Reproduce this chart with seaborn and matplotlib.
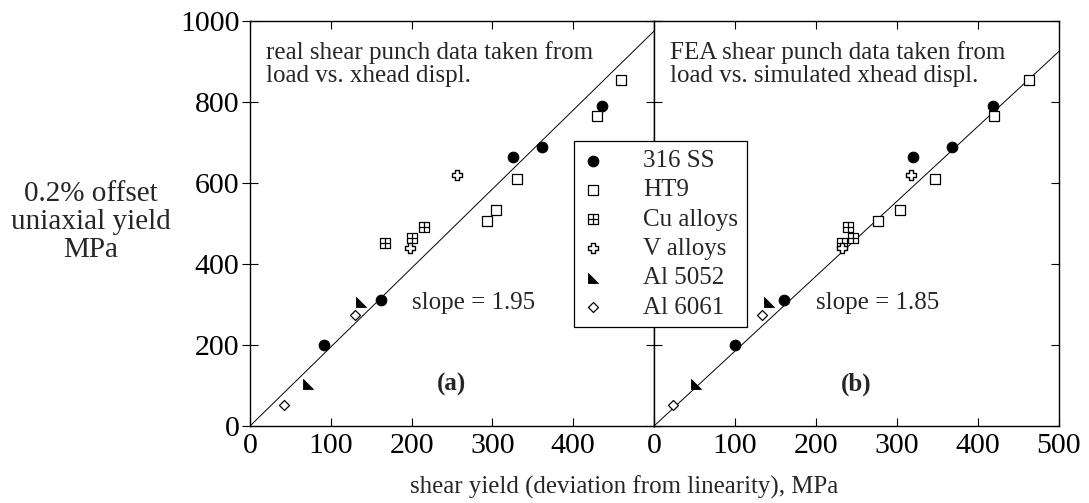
import numpy as np
import pandas as pd
import matplotlib
matplotlib.use("Agg")
import matplotlib.pyplot as plt
from matplotlib.path import Path
import seaborn as sns

# ---- data -------------------------------------------------------------
materials = ["316 SS", "HT9", "Cu alloys", "V alloys", "Al 5052", "Al 6061"]

# 0.2% offset uniaxial yield (MPa)
uniaxial_ss = [200, 310, 665, 690, 790]
uniaxial_ht9 = [506, 533, 610, 765, 855]
uniaxial_cu = [451, 464, 491]
uniaxial_v = [440, 619]
uniaxial_al5052 = [103, 307]
uniaxial_al6061 = [52, 274]

# shear yield from real shear punch tests (load vs. crosshead displacement)
real_ss = [92, 162, 325, 361, 436]
real_ht9 = [293, 305, 330, 430, 459]
real_cu = [167, 201, 215]
real_v = [198, 256]
real_al5052 = [72, 137]
real_al6061 = [42, 130]

# shear yield from FEA (load vs. simulated crosshead displacement)
fea_ss = [100, 160, 320, 368, 418]
fea_ht9 = [277, 304, 347, 420, 463]
fea_cu = [232, 246, 240]
fea_v = [232, 317]
fea_al5052 = [52, 142]
fea_al6061 = [24, 133]

slope_real = 1.95
slope_fea = 1.85

x_ticks_left = [0, 100, 200, 300, 400]
x_ticks_right = [0, 100, 200, 300, 400, 500]
y_ticks = [0, 200, 400, 600, 800, 1000]

rows = []
for name, uy, rx, fx in zip(
    materials,
    [uniaxial_ss, uniaxial_ht9, uniaxial_cu, uniaxial_v, uniaxial_al5052, uniaxial_al6061],
    [real_ss, real_ht9, real_cu, real_v, real_al5052, real_al6061],
    [fea_ss, fea_ht9, fea_cu, fea_v, fea_al5052, fea_al6061],
):
    for u, r, f in zip(uy, rx, fx):
        rows.append({"material": name, "uniaxial": u, "real": r, "fea": f})
df = pd.DataFrame(rows)

# ---- marker shapes ----------------------------------------------------
square_cross = Path(
    [(-1, -1), (1, -1), (1, 1), (-1, 1), (-1, -1), (0, -1), (0, 1), (-1, 0), (1, 0)],
    [Path.MOVETO, Path.LINETO, Path.LINETO, Path.LINETO, Path.CLOSEPOLY,
     Path.MOVETO, Path.LINETO, Path.MOVETO, Path.LINETO],
)
corner_triangle = Path(
    [(-1, 1), (-1, -1), (1, -1), (-1, 1)],
    [Path.MOVETO, Path.LINETO, Path.LINETO, Path.CLOSEPOLY],
)

styles = {
    "316 SS": dict(marker="o", color="black", s=58, linewidth=0.8),
    "HT9": dict(marker="s", color="white", s=52, linewidth=0.9),
    "Cu alloys": dict(marker=square_cross, color="white", s=50, linewidth=0.9),
    "V alloys": dict(marker="P", color="white", s=48, linewidth=1.0),
    "Al 5052": dict(marker=corner_triangle, color="black", s=52, linewidth=0.6),
    "Al 6061": dict(marker="D", color="white", s=26, linewidth=0.9),
}

# ---- figure -----------------------------------------------------------
sns.set_theme(style="white")
plt.rcParams["font.family"] = ["Liberation Serif", "DejaVu Serif"]

fig = plt.figure(figsize=(10.89, 5.03), dpi=100)
ax_l = fig.add_axes([250 / 1089, 77 / 503, 404 / 1089, 405 / 503])
ax_r = fig.add_axes([654 / 1089, 77 / 503, 405 / 1089, 405 / 503])

panels = [
    (ax_l, "real", slope_real, "real shear punch data taken from\nload vs. xhead displ.", "(a)", x_ticks_left),
    (ax_r, "fea", slope_fea, "FEA shear punch data taken from\nload vs. simulated xhead displ.", "(b)", x_ticks_right),
]

for ax, col, slope, note, tag, xt in panels:
    fit_x = np.array([0, 500])
    ax.plot(fit_x, slope * fit_x, color="black", lw=0.7, zorder=1)
    for name in materials:
        sub = df[df["material"] == name]
        st = styles[name]
        sns.scatterplot(
            data=sub, x=col, y="uniaxial", ax=ax,
            marker=st["marker"], color=st["color"], edgecolor="black",
            s=st["s"], linewidth=st["linewidth"], label=name,
            zorder=3, legend=False,
        )
    ax.set_xlim(0, 500)
    ax.set_ylim(0, 1000)
    ax.set_xlabel("")
    ax.set_ylabel("")
    ax.set_xticks(xt)
    ax.set_xticklabels([str(v) for v in xt])
    ax.set_yticks(y_ticks)
    for sp in ax.spines.values():
        sp.set_color("black")
        sp.set_linewidth(1.0)
    ax.tick_params(axis="both", which="both", direction="in", length=6, width=0.8,
                   top=True, right=True, bottom=True, left=True,
                   labelsize=21.5, pad=3, colors="black")
    ax.tick_params(axis="x", pad=5)
    ax.text(20, 894, note, ha="left", va="center", fontsize=18, linespacing=1.1)
    ax.text(200, 304, f"slope = {slope:.2f}", ha="left", va="center", fontsize=18)
    ax.text(250, 103, tag, ha="center", va="center", fontsize=18, fontweight="bold")

ax_l.set_yticklabels([str(v) for v in y_ticks])
ax_l.tick_params(axis="y", which="both", direction="inout", length=11, pad=2)
ax_r.set_yticklabels([])

handles, labels = ax_r.get_legend_handles_labels()
leg = ax_r.legend(
    handles, labels,
    loc="upper left", bbox_to_anchor=(574 / 1089, 1 - 141 / 503),
    bbox_transform=fig.transFigure, borderaxespad=0,
    frameon=True, fancybox=False, edgecolor="black", framealpha=1,
    fontsize=18, handlelength=0.8, handletextpad=1.6, borderpad=0.35,
    labelspacing=0.27, scatterpoints=1,
)
leg.get_frame().set_linewidth(0.9)
leg.set_zorder(10)

fig.text(91 / 1089, 1 - 222 / 503, "0.2% offset\nuniaxial yield\nMPa",
         ha="center", va="center", fontsize=21, linespacing=1.1)
fig.text(624 / 1089, 1 - 487 / 503, "shear yield (deviation from linearity), MPa",
         ha="center", va="center", fontsize=17.9)

fig.savefig("out.png", dpi=100, facecolor="white")
